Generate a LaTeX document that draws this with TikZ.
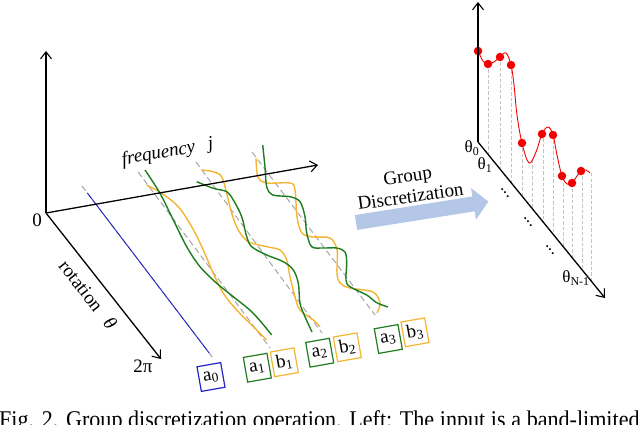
\documentclass[tikz,border=0pt]{standalone}
\usepackage{fontspec}
\setmainfont{Liberation Serif}
\usetikzlibrary{arrows.meta,calc}
\definecolor{cgreen}{RGB}{30,125,30}
\definecolor{corange}{RGB}{245,180,50}
\definecolor{cblue}{RGB}{35,35,200}
\definecolor{cgray}{RGB}{165,165,165}
\definecolor{lgray}{RGB}{195,195,195}
\definecolor{arrowblue}{RGB}{180,199,231}
\definecolor{cred}{RGB}{240,0,0}
\begin{document}
\begin{tikzpicture}[x=1pt,y=-1pt,
  axis/.style={line width=1.3pt,-{Straight Barb[length=7pt,width=11pt,line width=1.1pt]}},
  guide/.style={cgray,line width=1pt,dash pattern=on 6pt off 3.5pt},
  wave/.style={line width=1.4pt,smooth,tension=0.55},
  coef/.style={draw,line width=1.2pt,minimum width=24pt,minimum height=25pt,inner sep=0pt,rotate=10,font=\fontsize{19}{19}\selectfont},
  lab/.style={font=\fontsize{19}{21}\selectfont,inner sep=0pt},
  th/.style={font=\fontsize{17}{17}\selectfont,inner sep=0pt},
  samp/.style={lgray,line width=0.7pt,dash pattern=on 3.5pt off 2pt},
  rdot/.style={circle,fill=cred,inner sep=0pt,minimum size=8.5pt}
]
\useasboundingbox (0,0) rectangle (640,425);
\clip (0,0) rectangle (640,425);

% ---------- left: guide lines and waves
\coordinate (S0) at (82,186);  \coordinate (E0) at (213,358);
\coordinate (S1) at (138,172); \coordinate (E1) at (270,348);
\coordinate (S2) at (196,162); \coordinate (E2) at (322,333);
\coordinate (S3) at (252,152); \coordinate (E3) at (375,315);
\draw[guide] (S0) -- (E0);
\draw[guide] (S1) -- (E1);
\draw[guide] (S2) -- (E2);
\draw[guide] (S3) -- (E3);
\draw[cblue,line width=0.9pt] ($(S0)!0.04!(E0)$) -- ($(S0)!0.97!(E0)$);

\draw[wave,corange] plot coordinates {(146.7,185) (161.7,193.3) (178.3,206.7) (191.7,226.7) (203.3,250) (213.3,273.3) (223.3,293.3) (236.7,310) (253.3,326.7) (266.7,340)};
\draw[wave,cgreen] plot coordinates {(145,170) (160,193.3) (173.3,220) (186.7,246.7) (200,266.7) (216.7,283.3) (233.3,296.7) (253.3,313.3) (271.7,335)};

\draw[wave,corange] plot coordinates {(201.7,170) (213.3,171.7) (221.7,176.7) (226.7,193.3) (231.7,213.3) (238.3,230) (248.3,241.7) (266.7,246.7) (280,250) (286.7,260) (290,276.7) (295,296.7) (300,310) (313.3,320) (320,326.7)};
\draw[wave,cgreen] plot coordinates {(196.7,181.7) (213.3,188.3) (226.7,191.7) (233.3,200) (241.7,216.7) (246.7,236.7) (251.7,246.7) (266.7,255) (283.3,261.7) (293.3,270) (298.3,283.3) (300,303.3) (305,316.7) (312,332)};

\draw[wave,corange] plot coordinates {(256,158) (258,177) (267,183) (290,183) (295,190) (297,217) (302,233) (313,237) (330,238) (337,250) (337,273) (340,283) (350,288) (373,292) (380,303) (377,313)};
\draw[wave,cgreen] plot coordinates {(262.7,145) (265,167) (266.7,186.7) (273,195) (290,196.7) (300,201.7) (305,216.7) (306.7,233) (311.7,246.7) (323,248) (336.7,248) (345,252) (346.7,263) (346,280) (350,286.7) (366.7,295) (376.7,302.7) (388,307)};

% ---------- left axes
\coordinate (O) at (46,213);
\coordinate (Vtop) at (46,51);
\coordinate (Ftip) at (318,165);
\coordinate (Rtip) at (161,359);
\draw[axis] (O) -- (Vtop);
\draw[axis] (O) -- (Ftip);
\draw[axis] (O) -- (Rtip);
\node[lab] (zero) at (37,220) {0};
\node[lab] (twopi) at (143,366) {2π};
\node[lab,rotate=10,anchor=base] (freq) at (168.5,157) {\textit{frequency\hspace{13pt}j}};
\node[lab,rotate=-52,anchor=base] (rot) at (83,298.5) {rotation\hspace{13pt}\textit{θ}};

% ---------- coefficient boxes
\node[coef,draw=cblue] (a0) at (211,377) {a\textsubscript{0}};
\node[coef,draw=cgreen] (a1) at (257.3,367.7) {a\textsubscript{1}};
\node[coef,draw=corange] (b1) at (284.3,362.3) {b\textsubscript{1}};
\node[coef,draw=cgreen] (a2) at (319.7,352.7) {a\textsubscript{2}};
\node[coef,draw=corange] (b2) at (347.3,347.3) {b\textsubscript{2}};
\node[coef,draw=cgreen] (a3) at (388.3,339) {a\textsubscript{3}};
\node[coef,draw=corange] (b3) at (415,332.3) {b\textsubscript{3}};

% ---------- big arrow
\begin{scope}[shift={(356,222.5)},rotate=9]
\fill[arrowblue] (0,-7.5) -- (119,-7.5) -- (119,-16) -- (134,0) -- (119,16) -- (119,7.5) -- (0,7.5) -- cycle;
\end{scope}
\node[lab,rotate=8,align=center] (gd) at (409,186) {Group\\Discretization};

% ---------- right: samples
\coordinate (P0) at (478,142);
\coordinate (Ptop) at (478,2);
\coordinate (Ptip) at (605,298);
\foreach \x/\y in {488/64,500/57,511/65,522/143,532/160,543/133,553/135,563/177,572/183,582/171,591/173}
  \draw[samp] (\x,\y) -- (\x,{142+1.2283*(\x-478)});
\draw[cred,line width=0.9pt,smooth,tension=0.6] plot coordinates {(478,51) (483,61) (488,64) (494,62) (500,57) (506,53) (511,65) (514,85) (517,115) (522,143) (529,163) (536,152) (542,134) (548,127) (553,135) (557,155) (562,176) (567,184) (572,183) (577,176) (581,171) (586,170) (590,173)};
\foreach \x/\y [count=\i] in {478/51,488/64,500/57,511/65,522/143,542/134,553/135,562/176,572/183,581/171}
  \node[rdot] (d\i) at (\x,\y) {};
\draw[axis] (P0) -- (Ptop);
\draw[axis] (P0) -- (Ptip);
\node[th] (t0) at (472,148) {θ\textsubscript{0}};
\node[th] (t1) at (485,165) {θ\textsubscript{1}};
\node[th] (tn) at (576,278) {θ\textsubscript{N-1}};
\node[th,rotate=-50] (dd1) at (505,193) {...};
\node[th,rotate=-50] (dd2) at (528,222) {...};
\node[th,rotate=-50] (dd3) at (550,250) {...};

% ---------- caption (cut by the frame)
\node[anchor=base west,inner sep=0pt,font=\fontsize{24}{24}\selectfont] (cap) at (-1,427.6) {\scalebox{0.92}[1]{\makebox[696pt][s]{Fig. 2. Group discretization operation. Left: The input is a band-limited}}};
\end{tikzpicture}
\end{document}
